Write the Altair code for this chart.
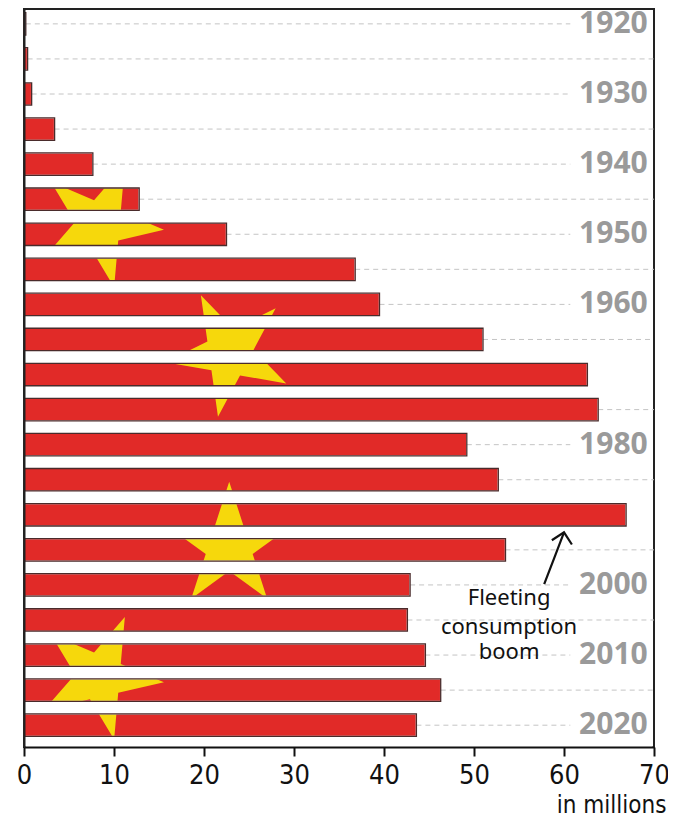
import math
import altair as alt
import pandas as pd

# ---- data ----
years = list(range(1920, 2021, 5))
values = [0.2, 0.4, 0.85, 3.4, 7.65, 12.8, 22.5, 36.8, 39.5, 51.0, 62.6,
          63.8, 49.2, 52.7, 66.9, 53.5, 42.9, 42.6, 44.6, 46.3, 43.6]
label_years = [1920, 1930, 1940, 1950, 1960, 1980, 2000, 2010, 2020]
x_ticks = [0, 10, 20, 30, 40, 50, 60, 70]

# decorative stars (value-axis position, year position, rotation)
star_x = [8.4, 22.8, 22.8, 8.4]
star_year = [1948.57, 1966.96, 1994.5, 2013.07]
star_angle = [23, 46, 0, 23]

note_lines = ["Fleeting", "consumption", "boom"]
note_x = [53.9, 53.9, 53.9]
note_year = [2001.9, 2006.0, 2009.6]
arrow_x = [57.8, 58.9, 60.0]
arrow_year = [1999.9, 1996.2, 1992.5]

# ---- styling constants ----
HALF = 1.6          # half bar thickness in years
OVER = 0.08         # mask overlap onto the bar edge
GRID_STOP = 60.7    # where the grid line stops before a year label
LABEL_X = 69.3
MASK_L, MASK_R = 0.15, 69.85
RED = "#e12a28"
YELLOW = "#f6d80c"
TICK_FONT = "Liberation Sans Narrow, DejaVu Sans Condensed, Open Sans, sans-serif"
W, H = 630, 738

pts = []
for k in range(10):
    a = math.radians(90 + 36 * k)
    r = 1.0 if k % 2 == 0 else 0.382
    pts.append((r * math.cos(a), -r * math.sin(a)))
star_path = "M" + "L".join(f"{px:.4f},{py:.4f}" for px, py in pts) + "Z"

bars = pd.DataFrame({"year": years, "value": values})
stars = pd.DataFrame({"sx": star_x, "sy": star_year, "ang": star_angle})
labels = pd.DataFrame({"year": label_years, "label": [str(y) for y in label_years]})
notes = pd.DataFrame({"nx": note_x, "ny": note_year, "txt": note_lines})
arrow = pd.DataFrame({"ax": arrow_x, "ay": arrow_year, "order": [0, 1, 2]})
tip = arrow.iloc[[-1]]

xscale = alt.Scale(domain=[0, 70], nice=False, zero=False)
yscale = alt.Scale(domain=[1917.88, 2023.11], reverse=True, nice=False, zero=False)

x_axis = alt.Axis(values=x_ticks, title="in millions", titleAnchor="end", titleAlign="right",
                  titleX=W + 12, titleY=65, titleBaseline="alphabetic", titleFont=TICK_FONT,
                  titleFontSize=24, titleFontWeight="normal", titleColor="#111",
                  labelFont=TICK_FONT, labelFontSize=27, labelColor="#111", labelPadding=6,
                  tickSize=9, tickWidth=2, tickColor="#111", domainColor="#111",
                  domainWidth=2, grid=False, zindex=1, labelFlush=False, format="d")
y_axis = alt.Axis(domain=True, domainColor="#222", domainWidth=2, ticks=False,
                  labels=False, grid=False, title=None, zindex=1)


def X(field):
    return alt.X(field, scale=xscale, axis=x_axis)


def Y(field):
    return alt.Y(field, scale=yscale, axis=y_axis)


base = alt.Chart(bars).transform_calculate(
    y0=f"datum.year - {HALF}", y1=f"datum.year + {HALF}"
)

bar_fill = base.mark_rect(color=RED).encode(
    x=X("value:Q"), x2=alt.datum(0), y=Y("y0:Q"), y2="y1:Q",
)

star_layer = alt.Chart(stars).mark_point(
    shape=star_path, filled=True, fill=YELLOW, opacity=1, strokeWidth=0, size=16700, clip=True
).encode(
    x=X("sx:Q"), y=Y("sy:Q"), angle=alt.Angle("ang:Q", scale=None),
)

mask_right = base.transform_calculate(
    r0=f"datum.year - {HALF} - {OVER}", r1=f"datum.year + {HALF} + {OVER}",
    v0=f"datum.value - {OVER}",
).mark_rect(color="white", clip=True).encode(
    x=X("v0:Q"), x2=alt.datum(MASK_R), y=Y("r0:Q"), y2="r1:Q",
)

mask_gaps = alt.Chart(bars).transform_calculate(
    m0=f"datum.year + {HALF} - {OVER}", m1=f"datum.year + 5 - {HALF} + {OVER}",
    left=f"{MASK_L}",
).mark_rect(color="white", clip=True).encode(
    x=X("left:Q"), x2=alt.datum(MASK_R), y=Y("m0:Q"), y2="m1:Q",
)

grid = base.transform_calculate(
    gend=f"datum.year % 10 == 0 ? max({GRID_STOP}, datum.value) : 70"
).mark_rule(color="#c4c4c4", strokeWidth=1, strokeDash=[5, 4]).encode(
    x=X("value:Q"), x2="gend:Q", y=Y("year:Q"),
)

bar_outline = base.mark_rect(fillOpacity=0, stroke="#4a2b2b", strokeWidth=1.3).encode(
    x=X("value:Q"), x2=alt.datum(0), y=Y("y0:Q"), y2="y1:Q",
)

year_text = alt.Chart(labels).transform_calculate(lx=f"{LABEL_X}").mark_text(
    align="right", baseline="middle", font="Open Sans", fontSize=30,
    fontWeight="bold", color="#9a9a9a"
).encode(
    x=X("lx:Q"), y=Y("year:Q"), text="label:N",
)

note_text = alt.Chart(notes).mark_text(
    align="center", baseline="middle", font="Noto Sans", fontSize=22, color="#111"
).encode(
    x=X("nx:Q"), y=Y("ny:Q"), text="txt:N",
)

arrow_line = alt.Chart(arrow).mark_line(color="#111", strokeWidth=2.2, interpolate="monotone").encode(
    x=X("ax:Q"), y=Y("ay:Q"), order="order:Q",
)

arrow_head = alt.Chart(tip).mark_point(
    shape="M-1,1L0,0L1,1", filled=False, stroke="#111", strokeWidth=2.2, size=420, angle=12, opacity=1
).encode(
    x=X("ax:Q"), y=Y("ay:Q"),
)

chart = alt.layer(
    bar_fill, star_layer, mask_right, mask_gaps, grid, bar_outline,
    year_text, note_text, arrow_line, arrow_head
).properties(
    width=W, height=H,
    padding={"left": 16, "top": 1, "right": 14, "bottom": 70},
    autosize=alt.AutoSizeParams(type="none"),
    background="white",
).configure_view(stroke="#222", strokeWidth=2)

chart.save("out.html", embed_options={"renderer": "svg", "actions": False})
